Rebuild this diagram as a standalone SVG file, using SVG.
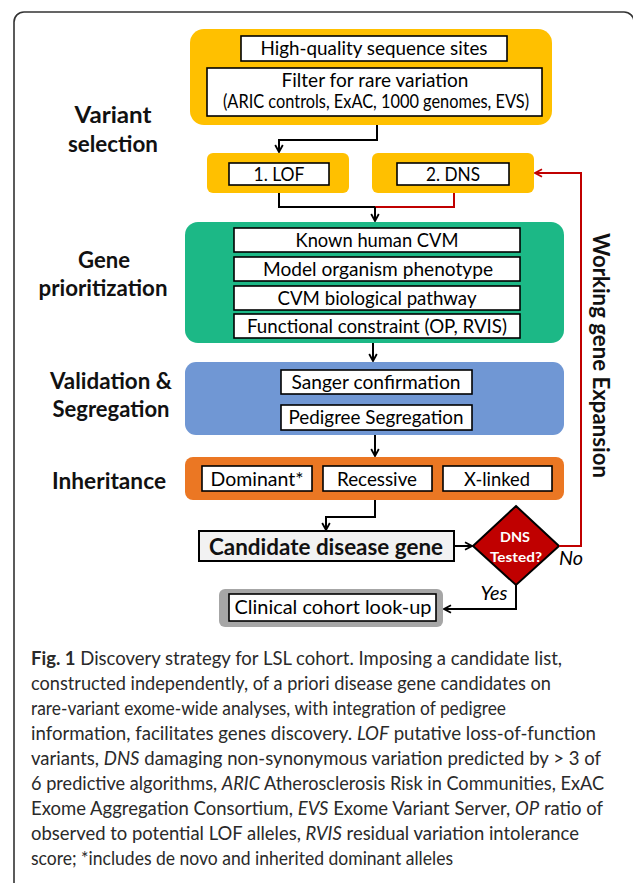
<svg xmlns="http://www.w3.org/2000/svg" width="633" height="883" viewBox="0 0 633 883">
<style>
.frame{fill:none;stroke:#333;stroke-width:1.6}
.wb{fill:#fff;stroke:#000;stroke-width:1.6}
.lbl{font-family:Lato,"Liberation Sans",sans-serif;font-weight:bold;font-size:22px;text-anchor:middle;fill:#111}
.t{font-family:Lato,"Liberation Sans",sans-serif;font-size:19px;text-anchor:middle;fill:#000}
.conn{fill:none;stroke:#000;stroke-width:2}
.red{fill:none;stroke:#C00000;stroke-width:2}
.cap{font-family:Lato,"Open Sans",sans-serif;font-size:18.5px;fill:#2a2a2a}
.it{font-style:italic}
</style>
<defs>
<marker id="ah" viewBox="0 0 10 10" refX="9" refY="5" markerWidth="10" markerHeight="10" orient="auto" markerUnits="userSpaceOnUse">
<path d="M2,1.2 L9,5 L2,8.8" fill="none" stroke="#000" stroke-width="1.8"/>
</marker>
<marker id="ahr" viewBox="0 0 10 10" refX="9" refY="5" markerWidth="10" markerHeight="10" orient="auto" markerUnits="userSpaceOnUse">
<path d="M2,1.2 L9,5 L2,8.8" fill="none" stroke="#C00000" stroke-width="1.8"/>
</marker>
</defs>
<rect class="frame" x="14" y="12" width="620" height="900" rx="10"/>

<g id="labels">
<text class="lbl" x="113" y="123" textLength="77" lengthAdjust="spacingAndGlyphs">Variant</text>
<text class="lbl" x="113" y="152" textLength="90" lengthAdjust="spacingAndGlyphs">selection</text>
<text class="lbl" x="104" y="268" textLength="52" lengthAdjust="spacingAndGlyphs">Gene</text>
<text class="lbl" x="103" y="296" textLength="129" lengthAdjust="spacingAndGlyphs">prioritization</text>
<text class="lbl" x="111" y="389" textLength="122" lengthAdjust="spacingAndGlyphs">Validation &amp;</text>
<text class="lbl" x="111" y="417" textLength="117" lengthAdjust="spacingAndGlyphs">Segregation</text>
<text class="lbl" x="109" y="489" textLength="114" lengthAdjust="spacingAndGlyphs">Inheritance</text>
<text class="lbl" transform="translate(593,355.5) rotate(90)" font-size="23" textLength="245" lengthAdjust="spacingAndGlyphs">Working gene Expansion</text>
</g>

<g id="filter">
<rect x="190" y="29" width="362" height="96" rx="14" fill="#FFC000"/>
<rect class="wb" x="241" y="36" width="266" height="25"/>
<text class="t" x="374" y="55" textLength="227" lengthAdjust="spacingAndGlyphs">High-quality sequence sites</text>
<rect class="wb" x="207" y="68" width="335" height="48"/>
<text class="t" x="375" y="87" font-size="18.5" textLength="187" lengthAdjust="spacingAndGlyphs">Filter for rare variation</text>
<text class="t" x="376" y="108" font-size="15.5" textLength="306" lengthAdjust="spacingAndGlyphs">(ARIC controls, ExAC, 1000 genomes, EVS)</text>
</g>

<g id="lof">
<rect x="207" y="153" width="142" height="40" rx="6" fill="#FFC000"/>
<rect class="wb" x="229" y="163" width="100" height="22"/>
<text class="t" x="279" y="181" textLength="51" lengthAdjust="spacingAndGlyphs">1. LOF</text>
</g>
<g id="dns">
<rect x="372" y="153" width="162" height="40" rx="6" fill="#FFC000"/>
<rect class="wb" x="397" y="163" width="112" height="22"/>
<text class="t" x="453" y="181" textLength="54" lengthAdjust="spacingAndGlyphs">2. DNS</text>
</g>

<g id="prioritization">
<rect x="185" y="222" width="379" height="121" rx="13" fill="#1CB886"/>
<rect class="wb" x="234" y="228" width="286" height="24"/>
<text class="t" x="377" y="247" textLength="163" lengthAdjust="spacingAndGlyphs">Known human CVM</text>
<rect class="wb" x="234" y="257" width="286" height="24"/>
<text class="t" x="378" y="276" textLength="230" lengthAdjust="spacingAndGlyphs">Model organism phenotype</text>
<rect class="wb" x="234" y="286" width="286" height="24"/>
<text class="t" x="377" y="305" textLength="199" lengthAdjust="spacingAndGlyphs">CVM biological pathway</text>
<rect class="wb" x="234" y="314" width="286" height="24"/>
<text class="t" x="377" y="333" textLength="260" lengthAdjust="spacingAndGlyphs">Functional constraint (OP, RVIS)</text>
</g>

<g id="validation">
<rect x="185" y="362" width="379" height="73" rx="11" fill="#7097D4"/>
<rect class="wb" x="281" y="370" width="191" height="24"/>
<text class="t" x="376" y="389" textLength="169" lengthAdjust="spacingAndGlyphs">Sanger confirmation</text>
<rect class="wb" x="281" y="405" width="191" height="25"/>
<text class="t" x="376" y="424" textLength="175" lengthAdjust="spacingAndGlyphs">Pedigree Segregation</text>
</g>

<g id="inheritance">
<rect x="185" y="457" width="379" height="43" rx="8" fill="#EB7723"/>
<rect class="wb" x="202" y="466" width="110" height="25"/>
<text class="t" x="257" y="486" textLength="93" lengthAdjust="spacingAndGlyphs">Dominant*</text>
<rect class="wb" x="323" y="466" width="109" height="25"/>
<text class="t" x="377" y="486" textLength="80" lengthAdjust="spacingAndGlyphs">Recessive</text>
<rect class="wb" x="443" y="466" width="109" height="25"/>
<text class="t" x="497" y="486" textLength="66" lengthAdjust="spacingAndGlyphs">X-linked</text>
</g>

<g id="candidate">
<rect x="199" y="531" width="255" height="30" fill="#F2F2F2" stroke="#000" stroke-width="2"/>
<text class="lbl" x="326" y="555" font-size="24" fill="#000" textLength="234" lengthAdjust="spacingAndGlyphs">Candidate disease gene</text>
</g>

<g id="decision">
<polygon points="516,506 559,546 516,585 473,546" fill="#C00000" stroke="#000" stroke-width="2"/>
<text x="515" y="542" font-family="Lato,'Liberation Sans',sans-serif" font-weight="bold" font-size="14" fill="#fff" text-anchor="middle" textLength="30" lengthAdjust="spacingAndGlyphs">DNS</text>
<text x="516" y="562" font-family="Lato,'Liberation Sans',sans-serif" font-weight="bold" font-size="14" fill="#fff" text-anchor="middle" textLength="52" lengthAdjust="spacingAndGlyphs">Tested?</text>
</g>

<g id="clinical">
<rect x="219" y="589" width="224" height="38" rx="6" fill="#A6A6A6"/>
<rect class="wb" x="229" y="594" width="207" height="27" stroke-width="2"/>
<text class="t" x="333" y="614" font-size="20" textLength="197" lengthAdjust="spacingAndGlyphs">Clinical cohort look-up</text>
</g>

<g id="connectors">
<path class="conn" d="M377,125 V140 H279 V152" marker-end="url(#ah)"/>
<path class="conn" d="M279,193 V207 H375"/>
<path class="red" d="M454,193 V207 H375"/>
<path class="conn" d="M375,207 V221" marker-end="url(#ah)"/>
<path class="conn" d="M373,343 V361" marker-end="url(#ah)"/>
<path class="conn" d="M375,435 V456" marker-end="url(#ah)"/>
<path class="conn" d="M375,500 V517 H326 V530" marker-end="url(#ah)"/>
<path class="conn" d="M454,546 H472" marker-end="url(#ah)"/>
<path class="red" d="M559,546 H581 V173 H535" marker-end="url(#ahr)"/>
<path class="conn" d="M516,585 V609 H444" marker-end="url(#ah)"/>
<text x="571" y="565" font-family="Lato,'Liberation Sans',sans-serif" font-style="italic" font-size="20" text-anchor="middle" textLength="24" lengthAdjust="spacingAndGlyphs">No</text>
<text x="494" y="600" font-family="Lato,'Liberation Sans',sans-serif" font-style="italic" font-size="20" text-anchor="middle" textLength="27" lengthAdjust="spacingAndGlyphs">Yes</text>
</g>

<g id="caption">
<text class="cap" x="31" y="665" textLength="531" lengthAdjust="spacingAndGlyphs"><tspan font-weight="bold">Fig. 1</tspan> Discovery strategy for LSL cohort. Imposing a candidate list,</text>
<text class="cap" x="31" y="690" textLength="520" lengthAdjust="spacingAndGlyphs">constructed independently, of a priori disease gene candidates on</text>
<text class="cap" x="31" y="715" textLength="475" lengthAdjust="spacingAndGlyphs">rare-variant exome-wide analyses, with integration of pedigree</text>
<text class="cap" x="31" y="740" textLength="565" lengthAdjust="spacingAndGlyphs">information, facilitates genes discovery. <tspan class="it">LOF</tspan> putative loss-of-function</text>
<text class="cap" x="31" y="765" textLength="570" lengthAdjust="spacingAndGlyphs">variants, <tspan class="it">DNS</tspan> damaging non-synonymous variation predicted by &gt; 3 of</text>
<text class="cap" x="31" y="790" textLength="573" lengthAdjust="spacingAndGlyphs">6 predictive algorithms, <tspan class="it">ARIC</tspan> Atherosclerosis Risk in Communities, ExAC</text>
<text class="cap" x="31" y="815" textLength="572" lengthAdjust="spacingAndGlyphs">Exome Aggregation Consortium, <tspan class="it">EVS</tspan> Exome Variant Server, <tspan class="it">OP</tspan> ratio of</text>
<text class="cap" x="31" y="840" textLength="548" lengthAdjust="spacingAndGlyphs">observed to potential LOF alleles, <tspan class="it">RVIS</tspan> residual variation intolerance</text>
<text class="cap" x="31" y="865" textLength="422" lengthAdjust="spacingAndGlyphs">score; *includes de novo and inherited dominant alleles</text>
</g>
</svg>
